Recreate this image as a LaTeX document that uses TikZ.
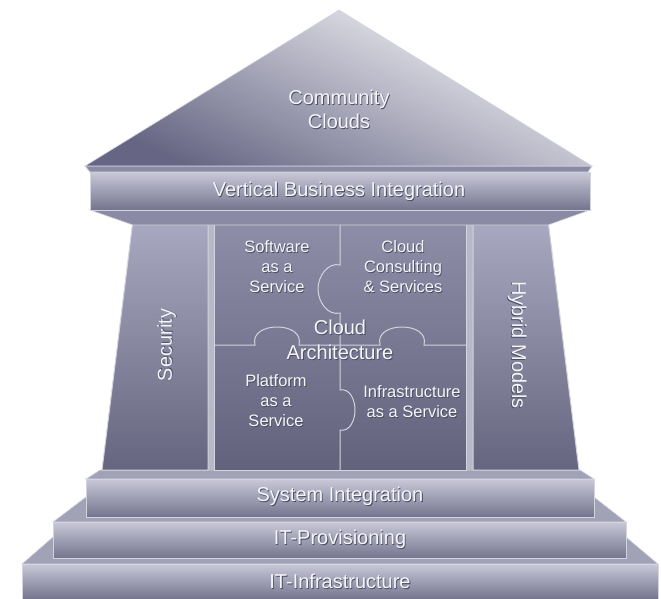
\documentclass[tikz,border=0pt]{standalone}
\usepackage{fontspec}
\setmainfont{Liberation Sans}
\usepackage{tikz}

\definecolor{roofTop}{HTML}{F8F8FB}
\definecolor{roofBot}{HTML}{666684}
\definecolor{slabTop}{HTML}{C8C8D8}
\definecolor{slabBot}{HTML}{74748E}
\definecolor{slopeFill}{HTML}{A2A2B6}
\definecolor{ledgeFill}{HTML}{8A8AA4}
\definecolor{pillarTop}{HTML}{A9A9C1}
\definecolor{pillarBot}{HTML}{65657F}
\definecolor{pieceTop}{HTML}{8E8EA8}
\definecolor{pieceBot}{HTML}{62627C}
\definecolor{bodyGap}{HTML}{B8B8C8}
\definecolor{edgeLight}{HTML}{D4D4E0}
\definecolor{letterLight}{HTML}{F6F6FA}
\definecolor{letterShade}{HTML}{4A4A60}

% light letters with a dark shadow
\newcommand{\emb}[1]{\leavevmode\rlap{\kern0.8pt\raisebox{-0.8pt}{\color{letterShade}#1}}#1}

\begin{document}
\begin{tikzpicture}[x=1pt,y=-1pt,
    slab/.style={
% The border:
      draw=edgeLight, line width=0.9pt,
% The filling:
      top color=slabTop, bottom color=slabBot
    },
    slope/.style={
      fill=slopeFill, draw=edgeLight, line width=0.6pt
    },
    pillar/.style={
      draw=edgeLight, line width=1pt,
      top color=pillarTop, bottom color=pillarBot
    },
    seam/.style={draw=edgeLight, line width=1pt},
    signtext/.style={
% Font
      text=letterLight, align=center,
      font=\fontsize{20}{24}\selectfont
    },
    piecetext/.style={
      signtext, font=\fontsize{16.5}{20}\selectfont
    }]
  \useasboundingbox (0,0) rectangle (661,599);

  % steps, from the ground up
  \filldraw[slope] (53,537) -- (626,537) -- (658,564) -- (22,564) -- cycle;
  \draw[slab] (22,564) rectangle (658,599);
  \filldraw[slope] (86,497) -- (594,497) -- (626,522) -- (53,522) -- cycle;
  \draw[slab] (53,522) rectangle (626,558);
  \filldraw[slope] (100,470) -- (580,470) -- (594,479) -- (86,479) -- cycle;
  \draw[slab] (86,479) rectangle (594,517);

  % body with the pillars
  \fill[bodyGap] (133,220) -- (548,220) -- (579,470) -- (102,470) -- cycle;
  \draw[pillar] (133,220) -- (208,220) -- (208,470) -- (102,470) -- cycle;
  \draw[pillar] (473,220) -- (548,220) -- (579,470) -- (473,470) -- cycle;

  % the four puzzle pieces
  \draw[seam, top color=pieceTop, bottom color=pieceBot] (214,220) rectangle (466,470);
  \draw[seam] (340,220) -- (340,265) .. controls (328,262) and (318,276) .. (318,289)
    .. controls (318,302) and (328,316) .. (340,313) -- (340,345);
  \draw[seam] (214,345) -- (255,345) .. controls (252,333) and (264,327) .. (277,327)
    .. controls (290,327) and (302,333) .. (299,345) -- (380,345)
    .. controls (377,333) and (389,327) .. (402,327)
    .. controls (415,327) and (427,333) .. (424,345) -- (466,345);
  \draw[seam] (340,345) -- (340,390) .. controls (350,388) and (355,400) .. (355,410)
    .. controls (355,420) and (350,432) .. (340,430) -- (340,470);

  % beam and roof
  \filldraw[fill=ledgeFill, draw=edgeLight, line width=0.6pt]
    (90,210) -- (590,210) -- (548,225) -- (133,225) -- cycle;
  \draw[slab] (90,172) rectangle (590,210);
  \filldraw[fill=ledgeFill, draw=edgeLight, line width=0.6pt]
    (85,166) -- (592,166) -- (588,172) -- (90,172) -- cycle;
  \draw[draw=edgeLight, line width=0.6pt, top color=roofTop, bottom color=roofBot,
    shading angle=-25] (339,10) -- (592,166) -- (85,166) -- cycle;

  % texts
  \node[signtext] (community) at (339,110) {\emb{Community}\\\emb{Clouds}};
  \node[signtext] (vertical) at (339,192) {\emb{Vertical Business Integration}};
  \node[signtext, rotate=90] (security) at (167,345) {\emb{Security}};
  \node[signtext, rotate=-90] (hybrid) at (517,345) {\emb{Hybrid Models}};
  \node[piecetext] (saas) at (277,267) {\emb{Software}\\\emb{as a}\\\emb{Service}};
  \node[piecetext] (consulting) at (403,267) {\emb{Cloud}\\\emb{Consulting}\\\emb{\& Services}};
  \node[piecetext] (paas) at (276,401) {\emb{Platform}\\\emb{as a}\\\emb{Service}};
  \node[piecetext] (iaas) at (412,402) {\emb{Infrastructure}\\\emb{as a Service}};
  \node[signtext, font=\fontsize{20}{25}\selectfont] (architecture) at (340,340)
    {\emb{Cloud}\\\emb{Architecture}};
  \node[signtext] (sysint) at (340,497) {\emb{System Integration}};
  \node[signtext] (provisioning) at (340,540) {\emb{IT-Provisioning}};
  \node[signtext] (infrastructure) at (340,582) {\emb{IT-Infrastructure}};
\end{tikzpicture}
\end{document}
